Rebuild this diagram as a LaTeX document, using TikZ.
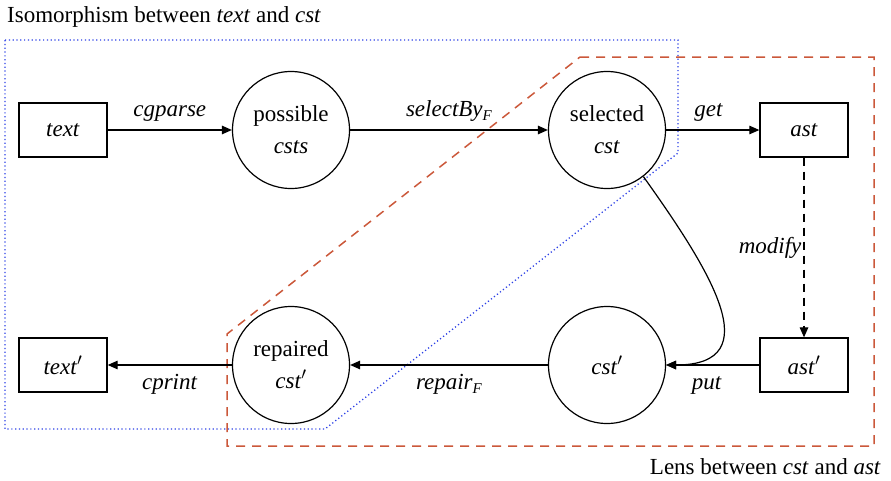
\documentclass[tikz,border=0pt]{standalone}
\usepackage{fontspec}
\setmainfont{Liberation Serif}
\usetikzlibrary{arrows.meta}
\definecolor{lensred}{RGB}{203,88,58}
\definecolor{isoblue}{RGB}{45,65,230}
\newcommand\lsub[1]{\raisebox{-0.4ex}{\fontsize{15}{15}\selectfont\textit{#1}}}
\tikzset{
  every node/.style={font=\fontsize{23}{30}\selectfont},
  boxnode/.style={draw,line width=1.3pt,minimum width=88pt,minimum height=54pt,inner sep=0pt},
  circnode/.style={draw,circle,line width=1.2pt,minimum size=117pt,inner sep=0pt,align=center},
  arr/.style={line width=1.2pt,-{Triangle[length=10pt,width=8.5pt]}},
  lab/.style={inner sep=3pt,text height=16pt,text depth=5pt},
  isoregion/.style={isoblue,line width=1.3pt,dash pattern=on 1.2pt off 2.6pt},
  lensregion/.style={lensred,line width=1.5pt,dash pattern=on 9pt off 7pt}
}
\begin{document}
\begin{tikzpicture}[x=1pt,y=-1pt]
\useasboundingbox (0,0) rectangle (891,480);
% regions
\draw[isoregion] (5,40) -- (678,40) -- (678,153) -- (325,429) -- (5,429) -- cycle;
\draw[lensregion] (580,57) -- (874,57) -- (874,446) -- (227,446) -- (227,334) -- cycle;
% titles
\node[anchor=base west,inner sep=0pt] (isotitle) at (7,22) {Isomorphism between \textit{text} and \textit{cst}};
\node[anchor=base east,inner sep=0pt] (lenstitle) at (881,474) {Lens between \textit{cst} and \textit{ast}};
% nodes
\node[boxnode] (text) at (63,130) {\textit{text}};
\node[circnode] (poss) at (291,130) {possible\\[2pt]\textit{csts}};
\node[circnode] (sel) at (607,130) {selected\\[2pt]\textit{cst}};
\node[boxnode] (ast) at (804,130) {\textit{ast}};
\node[boxnode] (astp) at (804,365) {\textit{ast}$'$};
\node[circnode] (cstp) at (607,365) {\textit{cst}$'$};
\node[circnode] (rep) at (291,365) {repaired\\[2pt]\textit{cst}$'$};
\node[boxnode] (textp) at (63,365) {\textit{text}$'$};
% connectors
\draw[arr] (text) -- node[lab,above=5pt] (l1) {\textit{cgparse}} (poss);
\draw[arr] (poss) -- node[lab,above=5pt] (l2) {\textit{selectBy}\lsub{F}} (sel);
\draw[arr] (sel) -- node[lab,above=5pt,xshift=-4pt] (l3) {\textit{get}} (ast);
\draw[arr,dash pattern=on 8pt off 6pt] (ast) -- node[lab,left=-1pt] (l4) {\textit{modify}} (astp);
\draw[arr] (astp) -- node[lab,below=5pt,xshift=-6pt] (l5) {\textit{put}} (cstp);
\draw[arr] (cstp) -- node[lab,below=5pt] (l6) {\textit{repair}\lsub{F}} (rep);
\draw[arr] (rep) -- node[lab,below=5pt] (l7) {\textit{cprint}} (textp);
\draw[arr] (sel.-52) .. controls (710,270) and (770,365) .. (cstp.east);
\end{tikzpicture}
\end{document}
